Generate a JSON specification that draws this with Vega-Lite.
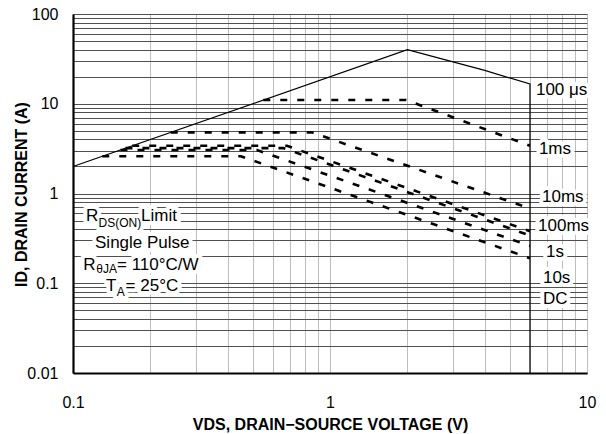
{
  "$schema": "https://vega.github.io/schema/vega-lite/v6.json",
  "width": 514,
  "height": 359,
  "autosize": {"type": "none"},
  "padding": {"left": 73, "top": 14, "right": 19, "bottom": 61},
  "background": "white",
  "config": {"view": {"stroke": null}, "font": "Liberation Sans"},
  "datasets": {
    "curves": [
      {"series": "100 μs", "k": 1, "v": 0.1, "i": 2},
      {"series": "100 μs", "k": 2, "v": 2, "i": 40},
      {"series": "100 μs", "k": 3, "v": 4, "i": 23.5},
      {"series": "100 μs", "k": 4, "v": 6, "i": 16.6},
      {"series": "100 μs", "k": 5, "v": 6, "i": 0.01},
      {"series": "1ms", "k": 1, "v": 0.55, "i": 11},
      {"series": "1ms", "k": 2, "v": 1.98, "i": 11},
      {"series": "1ms", "k": 3, "v": 6, "i": 3.4},
      {"series": "10ms", "k": 1, "v": 0.24, "i": 4.8},
      {"series": "10ms", "k": 2, "v": 0.85, "i": 4.8},
      {"series": "10ms", "k": 3, "v": 6, "i": 0.68},
      {"series": "100ms", "k": 1, "v": 0.17, "i": 3.4},
      {"series": "100ms", "k": 2, "v": 0.68, "i": 3.4},
      {"series": "100ms", "k": 3, "v": 6, "i": 0.38},
      {"series": "1s", "k": 1, "v": 0.16, "i": 3.2},
      {"series": "1s", "k": 2, "v": 0.66, "i": 3.2},
      {"series": "1s", "k": 3, "v": 6, "i": 0.34},
      {"series": "10s", "k": 1, "v": 0.153, "i": 3.05},
      {"series": "10s", "k": 2, "v": 0.52, "i": 3.05},
      {"series": "10s", "k": 3, "v": 6, "i": 0.26},
      {"series": "DC", "k": 1, "v": 0.13, "i": 2.6},
      {"series": "DC", "k": 2, "v": 0.45, "i": 2.6},
      {"series": "DC", "k": 3, "v": 6, "i": 0.19}
    ],
    "labels": [
      {"text": "100 μs", "v": 6.33, "i": 14.2, "kind": "main"},
      {"text": "1ms", "v": 6.5, "i": 3.13, "kind": "main"},
      {"text": "10ms", "v": 6.68, "i": 0.914, "kind": "main"},
      {"text": "100ms", "v": 6.45, "i": 0.434, "kind": "main"},
      {"text": "1s", "v": 6.93, "i": 0.223, "kind": "main"},
      {"text": "10s", "v": 6.74, "i": 0.114, "kind": "main"},
      {"text": "DC", "v": 6.74, "i": 0.0668, "kind": "main"},
      {"text": "R", "v": 0.1124, "i": 0.561, "kind": "main"},
      {"text": "DS(ON)", "v": 0.1258, "i": 0.469, "kind": "sub"},
      {"text": "Limit", "v": 0.1839, "i": 0.561, "kind": "main"},
      {"text": "Single Pulse", "v": 0.1218, "i": 0.281, "kind": "main"},
      {"text": "R", "v": 0.1097, "i": 0.1597, "kind": "main"},
      {"text": "θJA", "v": 0.1232, "i": 0.1423, "kind": "sub"},
      {"text": "= 110°C/W", "v": 0.1483, "i": 0.1597, "kind": "main"},
      {"text": "T", "v": 0.1344, "i": 0.0932, "kind": "main"},
      {"text": "A", "v": 0.1479, "i": 0.0789, "kind": "sub"},
      {"text": "= 25°C", "v": 0.1602, "i": 0.0932, "kind": "main"}
    ]
  },
  "layer": [
    {
      "data": {"name": "curves"},
      "transform": [{"filter": "datum.series === '100 μs'"}],
      "mark": {"type": "line", "color": "black", "strokeWidth": 1.2},
      "encoding": {
        "x": {
          "field": "v", "type": "quantitative",
          "scale": {"type": "log", "domain": [0.1, 10], "nice": false},
          "axis": {
            "values": [0.1, 0.2, 0.3, 0.4, 0.5, 0.6, 0.7, 0.8, 0.9, 1, 2, 3, 4, 5, 6, 7, 8, 9, 10],
            "labelExpr": "indexof([0.1, 1, 10], datum.value) >= 0 ? format(datum.value, '~g') : ''",
            "labelOverlap": false, "labelFlush": false,
            "grid": true, "gridColor": "#bdbdbd", "gridWidth": 1,
            "ticks": false, "tickSize": 0,
            "domain": true, "domainColor": "black", "domainWidth": 2.2,
            "labelFont": "Liberation Sans", "labelFontSize": 16, "labelColor": "black",
            "labelPadding": 21,
            "title": "VDS, DRAIN−SOURCE VOLTAGE (V)",
            "titleFont": "Liberation Sans", "titleFontSize": 16, "titleFontWeight": "bold", "titleColor": "black",
            "titleX": 257, "titleY": 51, "titleBaseline": "middle", "titleAlign": "center"
          }
        },
        "y": {
          "field": "i", "type": "quantitative",
          "scale": {"type": "log", "domain": [0.01, 100], "nice": false},
          "axis": {
            "values": [0.01, 0.02, 0.03, 0.04, 0.05, 0.06, 0.07, 0.08, 0.09, 0.1, 0.2, 0.3, 0.4, 0.5, 0.6, 0.7, 0.8, 0.9, 1, 2, 3, 4, 5, 6, 7, 8, 9, 10, 20, 30, 40, 50, 60, 70, 80, 90, 100],
            "labelExpr": "indexof([0.01, 0.1, 1, 10, 100], datum.value) >= 0 ? format(datum.value, '~g') : ''",
            "labelOverlap": false, "labelFlush": false,
            "grid": true, "gridColor": "#505050", "gridWidth": 1,
            "ticks": false, "tickSize": 0,
            "domain": true, "domainColor": "black", "domainWidth": 2.2,
            "labelFont": "Liberation Sans", "labelFontSize": 16, "labelColor": "black",
            "labelPadding": 15, "labelBaseline": "middle",
            "title": "ID, DRAIN CURRENT (A)",
            "titleFont": "Liberation Sans", "titleFontSize": 16, "titleFontWeight": "bold", "titleColor": "black",
            "titleX": -52, "titleY": 180, "titleAngle": 270, "titleBaseline": "middle", "titleAlign": "center"
          }
        },
        "order": {"field": "k", "type": "quantitative"}
      }
    },
    {
      "data": {"name": "curves"},
      "transform": [{"filter": "datum.series !== '100 μs'"}],
      "mark": {"type": "line", "color": "black", "strokeWidth": 2.6, "strokeDash": [7, 10]},
      "encoding": {
        "x": {"field": "v", "type": "quantitative"},
        "y": {"field": "i", "type": "quantitative"},
        "detail": {"field": "series", "type": "nominal"},
        "order": {"field": "k", "type": "quantitative"}
      }
    },
    {
      "data": {"name": "labels"},
      "mark": {"type": "text", "align": "left", "baseline": "middle", "font": "Liberation Sans", "fill": "white", "stroke": "white", "strokeWidth": 8, "strokeJoin": "round"},
      "encoding": {
        "x": {"field": "v", "type": "quantitative"},
        "y": {"field": "i", "type": "quantitative"},
        "text": {"field": "text"},
        "size": {"field": "kind", "type": "ordinal", "scale": {"domain": ["main", "sub"], "range": [17, 12]}, "legend": null}
      }
    },
    {
      "data": {"name": "labels"},
      "mark": {"type": "text", "align": "left", "baseline": "middle", "font": "Liberation Sans", "fill": "black"},
      "encoding": {
        "x": {"field": "v", "type": "quantitative"},
        "y": {"field": "i", "type": "quantitative"},
        "text": {"field": "text"},
        "size": {"field": "kind", "type": "ordinal", "scale": {"domain": ["main", "sub"], "range": [17, 12]}, "legend": null}
      }
    }
  ]
}
